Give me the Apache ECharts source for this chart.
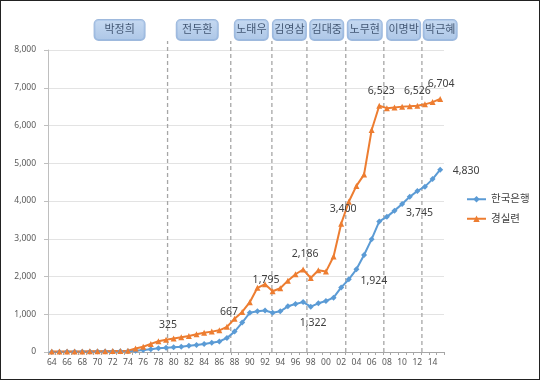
<!DOCTYPE html>
<html><head><meta charset="utf-8">
<script src="https://cdn.jsdelivr.net/npm/echarts@6/dist/echarts.min.js"></script>
<style>
html,body{margin:0;padding:0;background:#fff;}
#wrap{position:relative;width:540px;height:380px;}
#c{width:540px;height:380px;}
#frame{position:absolute;left:0;top:0;width:540px;height:380px;box-sizing:border-box;border:1px solid #222;pointer-events:none;}
</style></head>
<body><div id="wrap"><div id="c"></div><div id="frame"></div></div>
<script>
// ---- data ----
const years = [];
for (let y = 1964; y <= 2015; y++) years.push(y);
const yearLabels = years.map(y => String(y % 100).padStart(2, '0'));

const bokSeries = [2,3,4,5,6,8,10,12,15,18,22,30,50,70,97,115,125,140,165,185,212,245,280,370,540,780,1040,1080,1100,1040,1077,1210,1270,1322,1200,1290,1350,1440,1710,1924,2190,2570,2990,3460,3580,3745,3920,4110,4265,4380,4580,4830];
const ccejSeries = [10,11,12,14,16,18,20,22,25,28,35,95,140,215,285,325,360,390,425,470,510,540,575,667,880,1060,1320,1700,1795,1610,1690,1890,2060,2186,1960,2165,2130,2530,3400,3980,4400,4700,5880,6523,6460,6480,6500,6510,6526,6560,6620,6704];

const presidents = ['박정희','전두환','노태우','김영삼','김대중','노무현','이명박','박근혜'];
const presidentLabelYears = [1972.9,1983.1,1990.2,1995.2,2000.1,2005.1,2010.2,2015.0];
const termBoundaries = [1979.2,1987.5,1992.9,1997.5,2002.6,2007.6,2012.6];

const bokLabelYears = [1997, 2003, 2009, 2015];
const ccejLabelYears = [1979, 1987, 1992, 1997, 2002, 2007, 2012, 2015];

const yTicks = [0,1000,2000,3000,4000,5000,6000,7000,8000];

// ---- styling / option building ----
const FONT = '"Noto Sans", "Noto Sans CJK KR", sans-serif';
const SYM = 6;
const labelOffsets = {
  bok: {1997:[10,21], 2003:[25,2], 2009:[25,2], 2015:[26,1]},
  ccej:{1979:[2,-15], 1987:[2,-15], 1992:[1,-4], 1997:[2,-15], 2002:[2,-15], 2007:[2,-15], 2012:[0,-15], 2015:[1,-15]}
};
function buildData(values, labelYears, offs) {
  return values.map((v, i) => {
    const yr = years[i];
    if (labelYears.indexOf(yr) >= 0) {
      const o = offs[yr];
      return {value: v, label: {show: true, position: [SYM / 2 + o[0], SYM / 2 + o[1]],
        align: 'center', verticalAlign: 'middle',
        formatter: p => p.value.toLocaleString('en-US'),
        color: '#404040', fontSize: 10.5, fontFamily: FONT}};
    }
    return v;
  });
}

const boxWidths = [40, 31, 23, 23, 23, 24, 23, 23];

const series = [];
termBoundaries.forEach(b => {
  series.push({type: 'line', xAxisIndex: 1, data: [[b, 0], [b, 8240]], clip: false,
    symbol: 'none', silent: true, z: 1,
    lineStyle: {color: '#a6a6a6', width: 1.3, type: [4, 3]}});
});
series.push({
  name: '한국은행', type: 'line', xAxisIndex: 0, z: 3,
  data: buildData(bokSeries, bokLabelYears, labelOffsets.bok),
  showSymbol: true, showAllSymbol: true,
  symbol: 'diamond', symbolSize: SYM, color: '#5b9bd5',
  lineStyle: {width: 2, color: '#5b9bd5'}, itemStyle: {color: '#5b9bd5'}
});
series.push({
  name: '경실련', type: 'line', xAxisIndex: 0, z: 3,
  data: buildData(ccejSeries, ccejLabelYears, labelOffsets.ccej),
  showSymbol: true, showAllSymbol: true,
  symbol: 'triangle', symbolSize: SYM, color: '#ed7d31',
  lineStyle: {width: 2, color: '#ed7d31'}, itemStyle: {color: '#ed7d31'}
});
series.push({
  type: 'scatter', xAxisIndex: 1, clip: false, silent: true, z: 5,
  symbolSize: 0,
  data: presidents.map((n, i) => ({name: n, value: [presidentLabelYears[i], 8530],
    label: {width: boxWidths[i]}})),
  label: {show: true, position: 'inside', formatter: p => p.name,
    color: '#1f3350', fontSize: 11, fontFamily: FONT, align: 'center',
    backgroundColor: {type: 'linear', x: 0, y: 0, x2: 0, y2: 1,
      colorStops: [{offset: 0, color: '#b8d0ee'}, {offset: 1, color: '#98b8e0'}]},
    borderColor: '#86a8d4', borderWidth: 1, borderRadius: 4,
    padding: [5, 5, 4, 5]}
});

const chart = echarts.init(document.getElementById('c'), null, {renderer: 'canvas'});
chart.setOption({
  animation: false,
  backgroundColor: '#ffffff',
  textStyle: {fontFamily: FONT},
  grid: {left: 48, right: 96, top: 50, bottom: 28, containLabel: false},
  legend: {
    data: ['한국은행', '경실련'], orient: 'vertical', left: 461, top: 189,
    itemWidth: 19, itemHeight: 8, itemGap: 9,
    textStyle: {color: '#404040', fontSize: 10.5, fontFamily: FONT}
  },
  xAxis: [
    {type: 'category', data: yearLabels, boundaryGap: true,
      axisLine: {lineStyle: {color: '#a6a6a6', width: 1}},
      axisTick: {show: true, interval: 0, length: 3, lineStyle: {color: '#a6a6a6'}},
      axisLabel: {interval: 1, color: '#595959', fontSize: 8.5, margin: 6, fontFamily: FONT},
      splitLine: {show: false}},
    {type: 'value', min: 1963.5, max: 2015.5, show: false}
  ],
  yAxis: {
    type: 'value', min: yTicks[0], max: yTicks[yTicks.length - 1], interval: 1000,
    axisLine: {show: true, lineStyle: {color: '#bfbfbf'}},
    axisTick: {show: true, length: 4, lineStyle: {color: '#bfbfbf'}},
    axisLabel: {color: '#595959', fontSize: 8.5, margin: 12, fontFamily: FONT,
      formatter: v => v.toLocaleString('en-US')},
    splitLine: {lineStyle: {color: '#e3e3e3', width: 1}}
  },
  series: series
});
</script>
</body></html>
